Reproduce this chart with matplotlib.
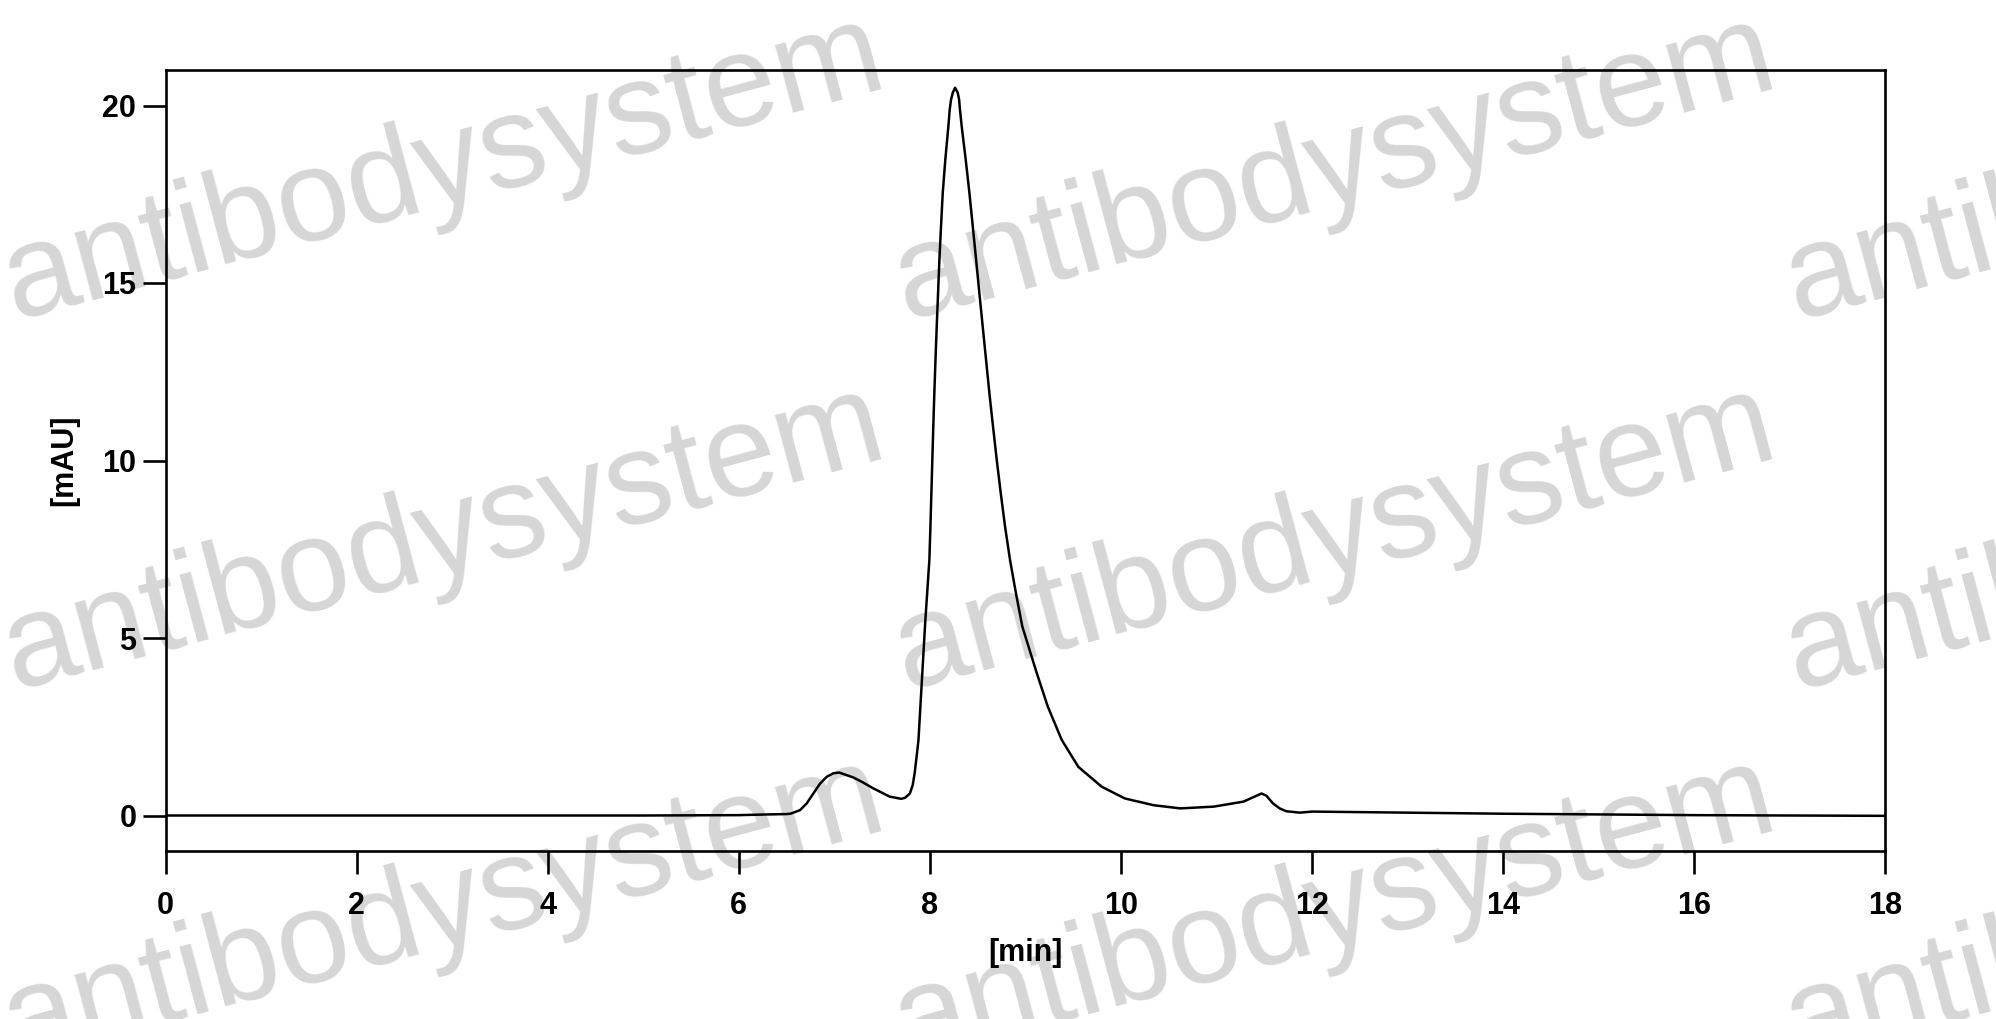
#!/usr/bin/env python3

import matplotlib
matplotlib.use("Agg")
import matplotlib.pyplot as plt

DPI = 100
W, H = 1996, 1019

# chromatogram
time_min = [0.0, 1.0, 2.0, 3.0, 4.0, 5.0, 6.0, 6.3, 6.5, 6.54, 6.64, 6.71,
            6.78, 6.85, 6.92, 6.99, 7.05, 7.20, 7.30, 7.41, 7.58, 7.70,
            7.74, 7.79, 7.82, 7.84, 7.86, 7.88, 7.91, 7.95, 7.994, 8.005,
            8.015, 8.025, 8.035, 8.046, 8.058, 8.071, 8.085, 8.099, 8.116,
            8.134, 8.161, 8.193, 8.207, 8.221, 8.239, 8.263, 8.291, 8.305,
            8.314, 8.332, 8.374, 8.413, 8.448, 8.483, 8.517, 8.552, 8.587,
            8.622, 8.660, 8.699, 8.741, 8.786, 8.838, 8.90, 8.967, 9.118,
            9.233, 9.379, 9.553, 9.798, 10.04, 10.34, 10.62, 10.97, 11.28,
            11.38, 11.47, 11.52, 11.59, 11.66, 11.73, 11.87, 12.0, 13.0,
            14.0, 15.0, 16.0, 17.0, 18.0]
signal_mau = [0.0, 0.0, 0.0, 0.0, 0.0, 0.0, 0.01, 0.03, 0.04, 0.05, 0.15,
              0.34, 0.62, 0.90, 1.09, 1.19, 1.21, 1.07, 0.93, 0.76, 0.53,
              0.47, 0.50, 0.62, 0.86, 1.19, 1.65, 2.13, 3.54, 5.42, 7.20,
              8.14, 9.08, 10.02, 10.96, 11.90, 12.84, 13.78, 14.72, 15.66,
              16.60, 17.54, 18.48, 19.42, 19.89, 20.17, 20.36, 20.50, 20.36,
              20.17, 19.89, 19.42, 18.48, 17.54, 16.60, 15.66, 14.72, 13.78,
              12.84, 11.90, 10.96, 10.02, 9.08, 8.14, 7.20, 6.26, 5.32,
              4.01, 3.07, 2.13, 1.37, 0.81, 0.48, 0.29, 0.20, 0.25, 0.39,
              0.51, 0.62, 0.56, 0.34, 0.20, 0.12, 0.08, 0.11, 0.08, 0.05,
              0.03, 0.01, 0.0, -0.01]

x_ticks = [0, 2, 4, 6, 8, 10, 12, 14, 16, 18]
y_ticks = [0, 5, 10, 15, 20]

WATERMARK = "antibodysystem"
wm_x = [15, 906, 1797]
wm_y = [320, 690, 1062]

plt.rcParams['font.family'] = ['Liberation Sans', 'DejaVu Sans']

fig = plt.figure(figsize=(W / DPI, H / DPI), dpi=DPI)
fig.patch.set_facecolor('white')

# watermark behind everything
for yy in wm_y:
    for xx in wm_x:
        fig.text(xx / W, 1 - yy / H, WATERMARK, fontsize=94, color='#d6d6d6',
                 rotation=15, rotation_mode='anchor', ha='left',
                 va='baseline', zorder=-5)

left, right, top, bottom = 165.5, 1885.5, 70, 851
ax = fig.add_axes([left / W, 1 - bottom / H, (right - left) / W,
                   (bottom - top) / H])
ax.set_facecolor('none')

ax.plot(time_min, signal_mau, color='black', linewidth=1.8,
        solid_joinstyle='round')

ax.set_xlim(0, 18)
ax.set_ylim(-1, 21)
ax.set_xticks(x_ticks)
ax.set_yticks(y_ticks)

for sp in ax.spines.values():
    sp.set_linewidth(1.9)
ax.tick_params(direction='out', length=16.5, width=1.9, labelsize=22,
               top=False, right=False)
ax.tick_params(axis='x', pad=12.5)
ax.tick_params(axis='y', pad=4.5)
for lab in ax.get_xticklabels() + ax.get_yticklabels():
    lab.set_fontweight('bold')

ax.set_xlabel('[min]', fontsize=22, fontweight='bold')
ax.set_ylabel('[mAU]', fontsize=22, fontweight='bold')
ax.xaxis.set_label_coords(0.5, (bottom - 938) / (bottom - top))
ax.yaxis.set_label_coords((79 - left) / (right - left), 0.5)

fig.savefig('out.png', dpi=DPI)
